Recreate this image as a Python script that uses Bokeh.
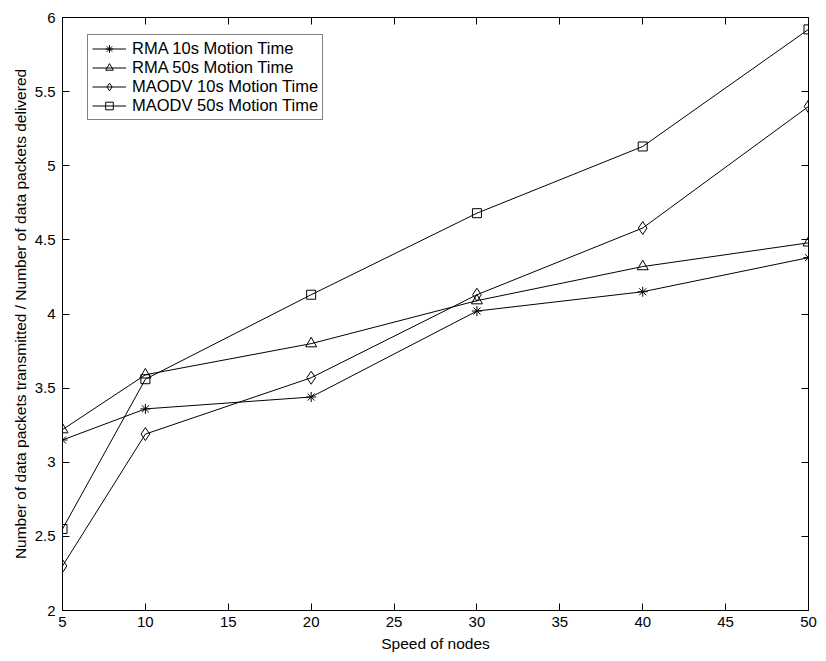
from bokeh.plotting import figure
from bokeh.models import (LinearAxis, Legend, LegendItem, Range1d, FixedTicker,
                          CustomLabelingPolicy)
from bokeh.embed import file_html
from bokeh.resources import INLINE

speed = [5, 10, 20, 30, 40, 50]
rma_10s = [3.15, 3.36, 3.44, 4.02, 4.15, 4.38]
rma_50s = [3.22, 3.59, 3.80, 4.09, 4.32, 4.48]
maodv_10s = [2.30, 3.19, 3.57, 4.13, 4.58, 5.40]
maodv_50s = [2.55, 3.56, 4.13, 4.68, 5.13, 5.92]

x_ticks = [5, 10, 15, 20, 25, 30, 35, 40, 45, 50]
y_ticks = [2, 2.5, 3, 3.5, 4, 4.5, 5, 5.5, 6]

FONT = "Liberation Sans"

p = figure(width=826, height=661, output_backend="svg", toolbar_location=None,
           x_range=Range1d(5, 50), y_range=Range1d(2, 6),
           min_border_left=62, min_border_right=18, min_border_top=17, min_border_bottom=51)
p.xgrid.visible = False
p.ygrid.visible = False
p.outline_line_color = "black"
p.outline_line_width = 1

for ax, ticks in ((p.xaxis[0], x_ticks), (p.yaxis[0], y_ticks)):
    ax.ticker = FixedTicker(ticks=ticks)
    ax.major_tick_in = 7
    ax.major_tick_out = 0
    ax.minor_tick_in = 0
    ax.minor_tick_out = 0
    ax.axis_line_color = "black"
    ax.major_tick_line_color = "black"
    ax.major_label_text_font = FONT
    ax.major_label_text_font_size = "15px"
    ax.major_label_text_color = "black"
    ax.axis_label_text_font = FONT
    ax.axis_label_text_font_size = "15.5px"
    ax.axis_label_text_font_style = "normal"
    ax.axis_label_text_color = "black"

p.xaxis.axis_label = "Speed of nodes"
p.xaxis.major_label_standoff = 6
p.xaxis.axis_label_standoff = 5
p.yaxis.axis_label = "Number of data packets transmitted / Number of data packets delivered"
p.yaxis.major_label_standoff = 7
p.yaxis.axis_label_standoff = 3
p.yaxis.major_label_overrides = {2: "2", 3: "3", 4: "4", 5: "5", 6: "6"}

# mirrored tick marks on the top and right edges, without labels
no_labels = CustomLabelingPolicy(
    code="for (let i = 0; i < indices.size; i++) { indices.unset(i) } return indices")
for loc, ticks in (("right", y_ticks), ("above", x_ticks)):
    ax = LinearAxis(ticker=FixedTicker(ticks=ticks), major_tick_in=7, major_tick_out=0,
                    minor_tick_in=0, minor_tick_out=0, major_label_policy=no_labels,
                    major_label_standoff=0, axis_line_color="black")
    p.add_layout(ax, loc)

series = [
    ("RMA 10s Motion Time", rma_10s, "asterisk", 10),
    ("RMA 50s Motion Time", rma_50s, "triangle", 11),
    ("MAODV 10s Motion Time", maodv_10s, "diamond", 13),
    ("MAODV 50s Motion Time", maodv_50s, "square", 9),
]

items = []
for name, ys, marker, size in series:
    ln = p.line(speed, ys, line_color="black", line_width=1)
    mk = p.scatter(speed, ys, marker=marker, size=size, line_color="black",
                   fill_alpha=0, line_width=1)
    items.append(LegendItem(label=name, renderers=[ln, mk]))

# legend box placed in screen units from the lower-left corner of the frame
legend = Legend(items=items, location=(25, 490),
                label_text_font=FONT, label_text_font_size="16.5px", label_text_color="black",
                border_line_color="black", border_line_width=1,
                spacing=0, padding=4, margin=0, glyph_width=34, glyph_height=19,
                label_height=19, label_standoff=6, background_fill_alpha=1)
p.add_layout(legend)

open("out.html", "w").write(file_html(p, INLINE))
